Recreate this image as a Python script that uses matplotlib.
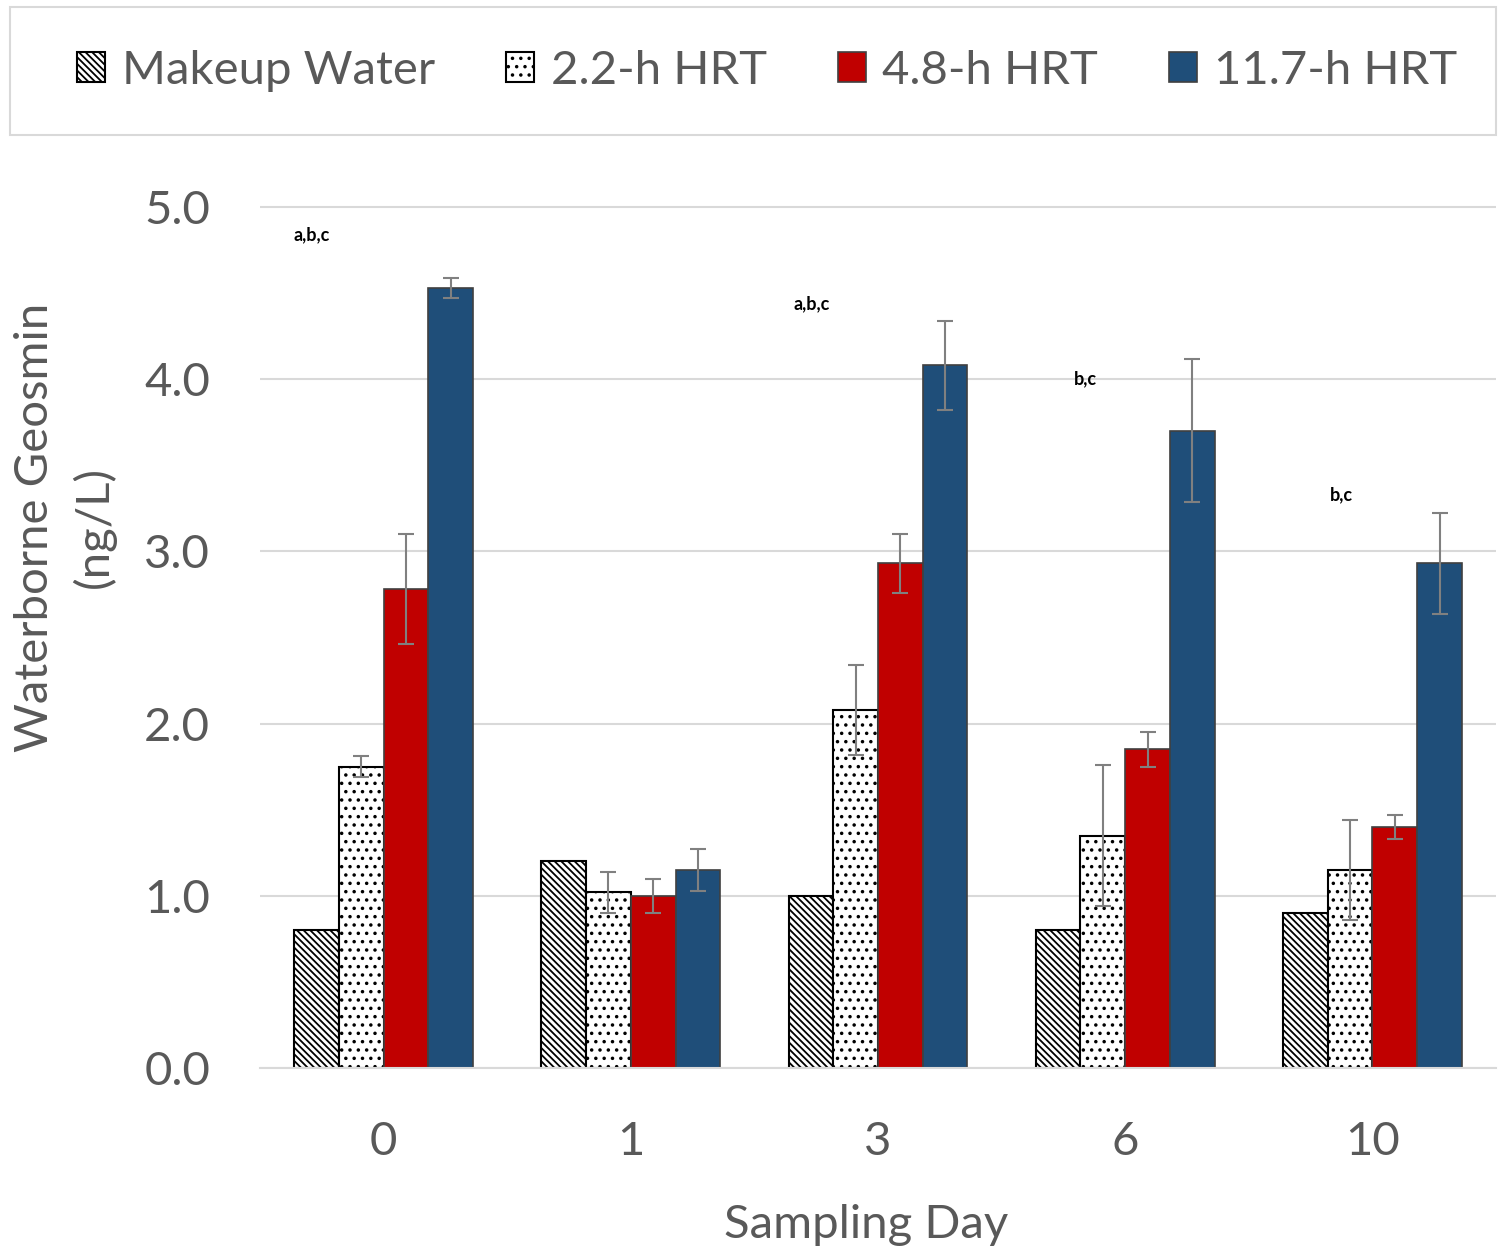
import matplotlib.pyplot as plt
import numpy as np
from matplotlib.patches import Patch, Rectangle

plt.rcParams['font.family'] = ['Lato', 'DejaVu Sans']
plt.rcParams['hatch.linewidth'] = 1.3

days = ['0', '1', '3', '6', '10']
series = ['Makeup Water', '2.2-h HRT', '4.8-h HRT', '11.7-h HRT']

makeup = [0.80, 1.20, 1.00, 0.80, 0.90]
hrt_2_2 = [1.75, 1.02, 2.08, 1.35, 1.15]
hrt_4_8 = [2.78, 1.00, 2.93, 1.85, 1.40]
hrt_11_7 = [4.53, 1.15, 4.08, 3.70, 2.93]

err_2_2 = [0.06, 0.12, 0.26, 0.41, 0.29]
err_4_8 = [0.32, 0.10, 0.17, 0.10, 0.07]
err_11_7 = [0.06, 0.12, 0.26, 0.415, 0.295]

# significance letters per sampling day
sig_labels = ['a,b,c', '', 'a,b,c', 'b,c', 'b,c']

grey_txt = '#595959'
fs = 34

fig = plt.figure(figsize=(15.06, 12.51), dpi=100)
ax = fig.add_axes([260 / 1506, 183 / 1251, 1236 / 1506, 869.6 / 1251])

x = np.arange(len(days))
w = 0.181
values = [makeup, hrt_2_2, hrt_4_8, hrt_11_7]
errors = [None, err_2_2, err_4_8, err_11_7]
styles = [
    dict(facecolor='white', edgecolor='black', hatch='\\\\\\\\\\', linewidth=1.5),
    dict(facecolor='white', edgecolor='black', hatch='..', linewidth=1.5),
    dict(facecolor='#C00000', edgecolor='#404040', linewidth=1.2),
    dict(facecolor='#1F4E79', edgecolor='#404040', linewidth=1.2),
]

for i, (vals, err, st) in enumerate(zip(values, errors, styles)):
    pos = x + (i - 1.5) * w
    ax.bar(pos, vals, width=w, label=series[i], zorder=2, **st)
    if err is not None:
        ax.errorbar(pos, vals, yerr=err, fmt='none', ecolor='#808080',
                    elinewidth=1.5, capsize=6, capthick=1.5, zorder=3)

# letters above each group
sig_places = [(-0.29, 4.84), (0, 0), (-0.27, 4.44), (-0.16, 4.00), (-0.125, 3.33)]
for xi, lab, (dx, yy) in zip(x, sig_labels, sig_places):
    if lab:
        ax.text(xi + dx, yy, lab, ha='center', va='center', fontsize=13,
                fontweight='bold', color='black')

ax.set_xlim(-0.5, 4.5)
ax.set_ylim(0, 5.05)
ax.set_yticks(np.arange(0, 5.01, 1.0))
ax.set_yticklabels([f'{v:.1f}' for v in np.arange(0, 5.01, 1.0)])
ax.set_xticks(x)
ax.set_xticklabels(days)
ax.tick_params(axis='both', length=0, labelsize=fs, labelcolor=grey_txt)
ax.tick_params(axis='x', pad=38)
ax.tick_params(axis='y', pad=36)
ax.grid(axis='y', color='#D9D9D9', linewidth=1.5, zorder=0)
ax.set_axisbelow(True)
for s in ['top', 'right', 'left']:
    ax.spines[s].set_visible(False)
ax.spines['bottom'].set_color('#D9D9D9')
ax.spines['bottom'].set_linewidth(1.5)

fig.text(65 / 1506, 1 - 527 / 1251, 'Waterborne Geosmin\n(ng/L)', rotation=90,
         ha='center', va='center', multialignment='center', fontsize=fs,
         color=grey_txt, linespacing=1.45)
fig.text(866 / 1506, 1 - 1225 / 1251, 'Sampling Day', ha='center', va='center',
         fontsize=fs, color=grey_txt)

# legend across the top with its own frame
fig.patches.append(Rectangle((10 / 1506, 1 - 135 / 1251), 1486 / 1506, 128 / 1251,
                             transform=fig.transFigure, facecolor='white',
                             edgecolor='#D9D9D9', linewidth=1.5))
handles = [Patch(label=series[i], **styles[i]) for i in range(4)]
fig.legend(handles=handles, loc='center', bbox_to_anchor=(767 / 1506, 1 - 71 / 1251),
           ncol=4, frameon=False, fontsize=fs, labelcolor=grey_txt,
           handlelength=0.6, handleheight=0.6, handletextpad=0.35,
           columnspacing=1.5)

fig.savefig('out.png', dpi=100)
